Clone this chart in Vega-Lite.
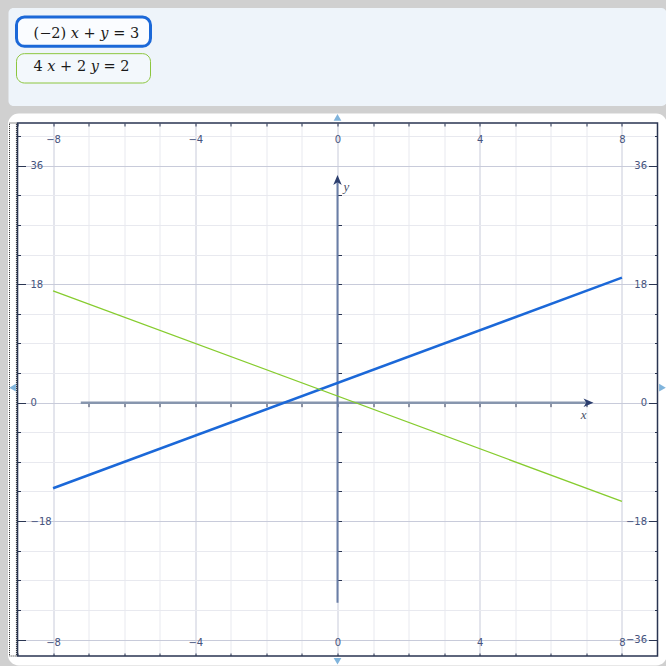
{
  "$schema": "https://vega.github.io/schema/vega-lite/v6.json",
  "autosize": {"type": "pad"},
  "padding": {"left": 7.5, "top": 8, "right": 0, "bottom": 0},
  "background": "#d0d0d0",
  "bounds": "flush",
  "spacing": 17,
  "config": {"view": {"stroke": null}},
  "datasets": {
    "equations": [
      {"n": 1, "eq": "(−2) 𝑥 + 𝑦 = 3"},
      {"n": 2, "eq": "4 𝑥 + 2 𝑦 = 2"}
    ],
    "lines": [
      {"n": 1, "x": -8, "y": -13},
      {"n": 1, "x": 8, "y": 19},
      {"n": 2, "x": -8, "y": 17},
      {"n": 2, "x": 8, "y": -15}
    ],
    "handles": [
      {"dir": "up", "x": 0, "y": 43.35},
      {"dir": "down", "x": 0, "y": -39.3},
      {"dir": "left", "x": -9.14, "y": 2.28},
      {"dir": "right", "x": 9.14, "y": 2.28}
    ]
  },
  "vconcat": [
    {
      "width": 640,
      "height": 98,
      "resolve": {"scale": {"y": "independent"}},
      "layer": [
        {
          "data": {"values": [{}]},
          "mark": {"type": "rect", "fill": "#eef4fa", "cornerRadius": 5},
          "encoding": {
            "x": {"datum": -9, "type": "quantitative", "scale": {"domain": [0, 640], "nice": false, "zero": false}, "axis": null},
            "x2": {"datum": 649},
            "y": {"datum": 0, "type": "quantitative", "scale": {"domain": [0, 1], "nice": false, "zero": false}, "axis": null},
            "y2": {"datum": 1}
          }
        },
        {
          "data": {"name": "equations"},
          "mark": {"type": "rect", "cornerRadius": 8},
          "encoding": {
            "x": {"datum": -1, "type": "quantitative", "scale": {"domain": [0, 640], "nice": false, "zero": false}, "axis": null},
            "x2": {"datum": 133},
            "y": {"field": "eq", "type": "nominal", "sort": null, "scale": {"domain": ["(−2) 𝑥 + 𝑦 = 3", "4 𝑥 + 2 𝑦 = 2"], "range": [9, 75], "paddingInner": 0.2, "paddingOuter": 0}, "axis": null},
            "fill": {"condition": {"test": "datum.n === 1", "value": "#fafcff"}, "value": "#f3f8fc"},
            "stroke": {"field": "n", "type": "nominal", "scale": {"domain": [1, 2], "range": ["#1b68d8", "#8cc63e"]}, "legend": null},
            "strokeWidth": {"condition": {"test": "datum.n === 1", "value": 3}, "value": 1}
          }
        },
        {
          "data": {"name": "equations"},
          "mark": {"type": "text", "align": "left", "baseline": "middle", "font": "DejaVu Serif", "fontSize": 14.5, "color": "#1a1a1a"},
          "encoding": {
            "x": {"datum": 16, "type": "quantitative", "scale": {"domain": [0, 640], "nice": false, "zero": false}, "axis": null},
            "y": {"field": "eq", "type": "nominal", "sort": null, "scale": {"domain": ["(−2) 𝑥 + 𝑦 = 3", "4 𝑥 + 2 𝑦 = 2"], "range": [9, 75], "paddingInner": 0.2, "paddingOuter": 0}, "axis": null},
            "text": {"field": "eq"}
          }
        }
      ]
    },
    {
      "width": 640,
      "height": 533,
      "view": {"fill": "white", "stroke": null},
      "resolve": {"axis": {"x": "independent", "y": "independent"}},
      "layer": [
        {
          "data": {"values": [{}]},
          "mark": {"type": "rect", "filled": false, "stroke": "white", "strokeWidth": 9.5, "cornerRadius": 6},
          "encoding": {
            "x": {"datum": -9.134, "type": "quantitative", "scale": {"domain": [-9, 9], "nice": false, "zero": false},
              "axis": {"orient": "top", "values": [-9, -8, -7, -6, -5, -4, -3, -2, -1, 0, 1, 2, 3, 4, 5, 6, 7, 8, 9], "grid": true,
                "gridColor": {"condition": {"test": "datum.value % 4 === 0", "value": "#c8cbda"}, "value": "#e8e9ef"}, "gridWidth": 1,
                "domain": false, "ticks": true, "tickSize": -3, "tickColor": "#2a3552", "tickWidth": 1,
                "labelExpr": "datum.value % 4 === 0 && abs(datum.value) < 9 ? datum.label : ''",
                "labelPadding": -16.5, "labelBaseline": "alphabetic", "labelAlign": "center", "labelFont": "DejaVu Sans", "labelFontSize": 10,
                "labelColor": "#46537d", "labelOverlap": false, "labelFlush": false, "labelBound": false, "title": null}},
            "x2": {"datum": 9.134},
            "y": {"datum": 43.22, "type": "quantitative", "scale": {"domain": [-38.5, 42.5], "nice": false, "zero": false},
              "axis": {"orient": "left", "values": [-36, -31.5, -27, -22.5, -18, -13.5, -9, -4.5, 0, 4.5, 9, 13.5, 18, 22.5, 27, 31.5, 36, 40.5],
                "grid": true, "gridColor": {"condition": {"test": "datum.value % 18 === 0", "value": "#c8cbda"}, "value": "#e8e9ef"}, "gridWidth": 1,
                "domain": false, "tickSize": -3, "tickColor": "#2a3552", "labels": false, "title": null}},
            "y2": {"datum": -39.22}
          }
        },
        {
          "data": {"values": [{}]},
          "mark": {"type": "rect", "filled": false, "stroke": "#222222", "strokeWidth": 1, "strokeDash": [1, 1]},
          "encoding": {
            "x": {"datum": -9.225, "type": "quantitative", "scale": {"domain": [-9, 9], "nice": false, "zero": false},
              "axis": {"orient": "bottom", "values": [-9, -8, -7, -6, -5, -4, -3, -2, -1, 0, 1, 2, 3, 4, 5, 6, 7, 8, 9], "grid": false,
                "domain": false, "ticks": true, "tickSize": -3, "tickColor": "#2a3552", "tickWidth": 1,
                "labelExpr": "datum.value % 4 === 0 && abs(datum.value) < 9 ? datum.label : ''",
                "labelPadding": -8, "labelBaseline": "alphabetic", "labelAlign": "center", "labelFont": "DejaVu Sans", "labelFontSize": 10,
                "labelColor": "#46537d", "labelOverlap": false, "labelFlush": false, "labelBound": false, "title": null}},
            "x2": {"datum": -9.03},
            "y": {"datum": -38.5, "type": "quantitative", "scale": {"domain": [-38.5, 42.5], "nice": false, "zero": false},
              "axis": {"orient": "left", "values": [-36, -18, 0, 18, 36], "grid": false, "domain": false, "tickSize": -8, "tickColor": "#2a3552",
                "labelExpr": "datum.value === -36 ? '' : datum.label",
                "labelPadding": -4.5, "labelAlign": "left", "labelBaseline": "middle", "labelFont": "DejaVu Sans", "labelFontSize": 10,
                "labelColor": "#46537d", "labelOverlap": false, "labelFlush": false, "labelBound": false, "title": null}},
            "y2": {"datum": 42.5}
          }
        },
        {
          "data": {"values": [{}]},
          "mark": {"type": "rule", "stroke": "#8796ae", "strokeWidth": 2.5},
          "encoding": {
            "x": {"datum": -7.22, "type": "quantitative", "scale": {"domain": [-9, 9], "nice": false, "zero": false},
              "axis": {"orient": "bottom", "offset": -253.35, "values": [-7, -6, -5, -4, -3, -2, -1, 0, 1, 2, 3, 4, 5, 6, 7], "grid": false,
                "domain": false, "tickSize": 4, "tickColor": "#2a3552", "labels": false, "title": null}},
            "x2": {"datum": 7.06},
            "y": {"datum": 0, "type": "quantitative", "scale": {"domain": [-38.5, 42.5], "nice": false, "zero": false},
              "axis": {"orient": "right", "values": [-36, -18, 0, 18, 36], "grid": false, "domain": false, "tickSize": -9, "tickColor": "#2a3552",
                "labelPadding": -2, "labelAlign": "right", "labelBaseline": "middle", "labelFont": "DejaVu Sans", "labelFontSize": 10,
                "labelColor": "#46537d", "labelOverlap": false, "labelFlush": false, "labelBound": false, "title": null}}
          }
        },
        {
          "data": {"values": [{}]},
          "mark": {"type": "rule", "stroke": "#6a7ea6", "strokeWidth": 2},
          "encoding": {
            "x": {"datum": 0, "type": "quantitative", "scale": {"domain": [-9, 9], "nice": false, "zero": false}, "axis": null},
            "y": {"datum": -30.4, "type": "quantitative", "scale": {"domain": [-38.5, 42.5], "nice": false, "zero": false},
              "axis": {"orient": "right", "values": [-36, -31.5, -27, -22.5, -18, -13.5, -9, -4.5, 0, 4.5, 9, 13.5, 18, 22.5, 27, 31.5, 36, 40.5],
                "grid": false, "domain": false, "tickSize": -3, "tickColor": "#2a3552", "labels": false, "title": null}},
            "y2": {"datum": 33.8}
          }
        },
        {
          "data": {"values": [{}]},
          "mark": {"type": "point", "shape": "M-1,-0.85L1,0L-1,0.85L-0.45,0Z", "size": 100, "filled": true, "fill": "#2c3e6e", "opacity": 1, "strokeWidth": 0},
          "encoding": {
            "x": {"datum": 7.06, "type": "quantitative", "scale": {"domain": [-9, 9], "nice": false, "zero": false}, "axis": null},
            "y": {"datum": 0, "type": "quantitative", "scale": {"domain": [-38.5, 42.5], "nice": false, "zero": false},
              "axis": {"orient": "right", "offset": -320, "values": [-27, -22.5, -18, -13.5, -9, -4.5, 0, 4.5, 9, 13.5, 18, 22.5, 27, 31.5],
                "grid": false, "domain": false, "tickSize": 4, "tickColor": "#2a3552", "labels": false, "title": null}}
          }
        },
        {
          "data": {"values": [{}]},
          "mark": {"type": "point", "shape": "M-0.85,1L0,-1L0.85,1L0,0.45Z", "size": 100, "filled": true, "fill": "#2c3e6e", "opacity": 1, "strokeWidth": 0},
          "encoding": {
            "x": {"datum": 0, "type": "quantitative", "scale": {"domain": [-9, 9], "nice": false, "zero": false}, "axis": null},
            "y": {"datum": 33.84, "type": "quantitative", "scale": {"domain": [-38.5, 42.5], "nice": false, "zero": false}, "axis": null}
          }
        },
        {
          "data": {"name": "lines"},
          "mark": {"type": "line", "strokeCap": "butt"},
          "encoding": {
            "x": {"field": "x", "type": "quantitative", "scale": {"domain": [-9, 9], "nice": false, "zero": false}, "axis": null},
            "y": {"field": "y", "type": "quantitative", "scale": {"domain": [-38.5, 42.5], "nice": false, "zero": false}, "axis": null},
            "color": {"field": "n", "type": "nominal", "scale": {"domain": [1, 2], "range": ["#1b68d8", "#86cc2e"]}, "legend": null},
            "strokeWidth": {"condition": {"test": "datum.n === 1", "value": 2.5}, "value": 1.3}
          }
        },
        {
          "data": {"values": [{}]},
          "mark": {"type": "text", "text": "x", "font": "Liberation Serif", "fontStyle": "italic", "fontSize": 13, "color": "#4a4f66", "align": "center", "baseline": "middle"},
          "encoding": {
            "x": {"datum": 6.92, "type": "quantitative", "scale": {"domain": [-9, 9], "nice": false, "zero": false}, "axis": null},
            "y": {"datum": -1.8, "type": "quantitative", "scale": {"domain": [-38.5, 42.5], "nice": false, "zero": false}, "axis": null}
          }
        },
        {
          "data": {"values": [{}]},
          "mark": {"type": "text", "text": "y", "font": "Liberation Serif", "fontStyle": "italic", "fontSize": 13, "color": "#4a4f66", "align": "center", "baseline": "middle"},
          "encoding": {
            "x": {"datum": 0.25, "type": "quantitative", "scale": {"domain": [-9, 9], "nice": false, "zero": false}, "axis": null},
            "y": {"datum": 32.8, "type": "quantitative", "scale": {"domain": [-38.5, 42.5], "nice": false, "zero": false}, "axis": null}
          }
        },
        {
          "data": {"values": [{}]},
          "mark": {"type": "rect", "filled": false, "stroke": "#2a3552", "strokeWidth": 1.5},
          "encoding": {
            "x": {"datum": -9, "type": "quantitative", "scale": {"domain": [-9, 9], "nice": false, "zero": false}, "axis": null},
            "x2": {"datum": 9},
            "y": {"datum": -38.5, "type": "quantitative", "scale": {"domain": [-38.5, 42.5], "nice": false, "zero": false}, "axis": null},
            "y2": {"datum": 42.5}
          }
        },
        {
          "data": {"name": "handles"},
          "mark": {"type": "point", "filled": true, "size": 60, "color": "#80b4dc", "opacity": 1},
          "encoding": {
            "x": {"field": "x", "type": "quantitative", "scale": {"domain": [-9, 9], "nice": false, "zero": false}, "axis": null},
            "y": {"field": "y", "type": "quantitative", "scale": {"domain": [-38.5, 42.5], "nice": false, "zero": false}, "axis": null},
            "shape": {"field": "dir", "type": "nominal", "scale": {"domain": ["up", "down", "left", "right"], "range": ["triangle-up", "triangle-down", "triangle-left", "triangle-right"]}, "legend": null}
          }
        }
      ]
    }
  ]
}
